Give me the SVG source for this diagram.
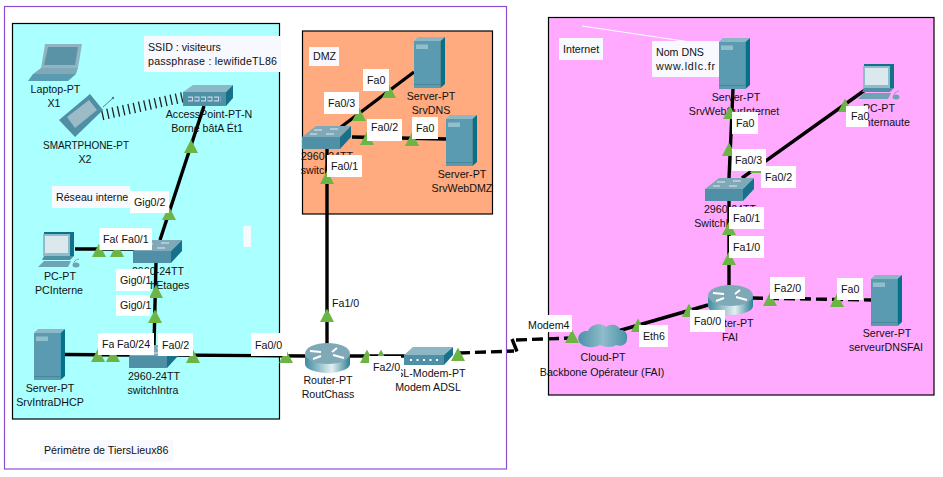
<svg xmlns="http://www.w3.org/2000/svg" xmlns:xlink="http://www.w3.org/1999/xlink" width="943" height="477" viewBox="0 0 943 477">
<style>
text{font-family:"Liberation Sans",Arial,sans-serif;font-size:10.67px;fill:#111}
.c{text-anchor:middle}
.zone{stroke:#000;stroke-width:1.2}
.link{fill:none;stroke:#000;stroke-width:3.4;stroke-linecap:butt}
.dash{stroke-dasharray:11 5}
.box{fill:#fff}
.note{fill:#f8f8ff}
.tri{fill:#6cb544}
</style>
<defs>
<linearGradient id="rg" x1="0" x2="1" y1="0" y2="0"><stop offset="0" stop-color="#3f8ba1"/><stop offset=".6" stop-color="#e4f0f1"/><stop offset="1" stop-color="#2d7e95"/></linearGradient>
<linearGradient id="cg" x1="0" x2="1" y1="0" y2="0"><stop offset="0" stop-color="#4b92a8"/><stop offset=".5" stop-color="#8fbcc8"/><stop offset="1" stop-color="#4b92a8"/></linearGradient>
<polygon id="tr" class="tri" points="-7,0 7,0 0,-13.5"/>
<g id="server">
<rect x="0" y="4" width="26.5" height="47" fill="#5a9bb1"/>
<polygon points="0,4 4,0 31,0 26.5,4" fill="#8cb7c5"/>
<polygon points="26.5,4 31,0 31,47 26.5,51" fill="#05708a"/>
<rect x="2" y="7.5" width="12" height="4.5" fill="#93bfcd"/>
<line x1="0" y1="47.5" x2="26.5" y2="47.5" stroke="#4a8699"/>
</g>
<g id="switch">
<polygon points="0,11 14,0 49,0 38,11" fill="#7fa9b7"/>
<rect x="0" y="11" width="38" height="12" fill="#4f90a7"/>
<polygon points="38,11 49,0 49,11 38,23" fill="#17718a"/>
<path d="M12 4h8M28 3h8M8 8h7M24 8h8" stroke="#eef" stroke-width=".9"/>
</g>
<g id="router">
<path d="M0 12v9a22.5 9 0 0 0 45 0v-9z" fill="url(#rg)"/>
<ellipse cx="22.5" cy="10.5" rx="22.5" ry="10.5" fill="#7fa9b7"/>
<path d="M5 8l11 1M16 13l-8 3M27 9l5-4M28 12l11 3" stroke="#fff" stroke-width="2"/>
</g>
<g id="pc">
<rect x="6" y="0" width="30" height="24" fill="#11718a"/>
<rect x="5" y="2" width="27" height="22" fill="#8fbccb"/>
<rect x="7" y="4" width="23" height="17" fill="#dbe8ee"/>
<polygon points="6,24 36,24 32,28 4,28" fill="#4f90a7"/>
<polygon points="0,35 6,29 33,29 30,35" fill="#6fa2b3"/>
<path d="M36 33q-1-5 5-6" fill="none" stroke="#7fa9b7"/>
<ellipse cx="38" cy="33" rx="3.5" ry="2.5" fill="#6fa2b3"/>
</g>
<g id="laptop">
<polygon points="17,0 54,0 50,24 13,24" fill="#8fb5c2"/>
<polygon points="20,3 50,3 47,21 16,21" fill="#5a93a6"/>
<polygon points="13,24 50,24 48,30 5,30" fill="#7fa9b7"/>
<polygon points="5,30 48,30 40,37 0,37" fill="#5a9bb1"/>
</g>
<g id="phone">
<polygon points="0,26 31,0 44,16 16,43" fill="#4f8ea5"/>
<polygon points="8,23 30,6 38,16 16,34" fill="#9dbbc7"/>
<line x1="44" y1="13" x2="54" y2="4" stroke="#4f7f92"/>
<circle cx="54" cy="4" r="1.2" fill="#3f8199"/>
</g>
<g id="ap">
<polygon points="0,7 10,0 50,0 43,7" fill="#8eb7c5"/>
<rect x="0" y="7" width="43" height="14" fill="#4f90a7"/>
<polygon points="43,7 50,0 50,13 43,21" fill="#17718a"/>
<path d="M5 14h33" stroke="#eef" stroke-width="5" stroke-dasharray="5 1.5" fill="none" opacity=".75"/>
<path d="M5 14h33" stroke="#4f90a7" stroke-width="2.5" stroke-dasharray="4 2.5" fill="none"/>
</g>
<g id="modem">
<polygon points="0,8 9,0 49,0 40,8" fill="#8eb7c5"/>
<rect x="0" y="8" width="40" height="10" fill="#4f90a7"/>
<polygon points="40,8 49,0 49,8 40,18" fill="#17718a"/>
<path d="M6 13h29" stroke="#fff" stroke-width="2" stroke-dasharray="2 4.5"/>
</g>
<g id="cloud">
<path d="M3 21C-3 15 2 7 10 8C12 1 24 -1 28 4C33 0 41 2 42 7C48 6 50 12 49 16C49 22 43 24 38 22C34 25 26 24 22 22C17 25 7 25 3 21z" fill="url(#cg)"/>
</g>
</defs>

<rect width="943" height="477" fill="#fff"/>
<rect x="4.5" y="6.5" width="502" height="462.5" fill="none" stroke="#8a4fd0" stroke-width="1.2"/>
<rect class="zone" x="12.5" y="23.5" width="267" height="395.5" fill="#aaffff"/>
<rect class="zone" x="302.5" y="31" width="190" height="183" fill="#ffaa7f"/>
<rect class="zone" x="548.5" y="17.5" width="385.5" height="377.5" fill="#ffaaff"/>
<line x1="582" y1="26" x2="690" y2="42" stroke="#fff" stroke-width="1"/>

<g id="connectors">
<line class="link" x1="204" y1="106" x2="160" y2="240"/>
<line class="link" x1="75" y1="249" x2="135" y2="249"/>
<line class="link" x1="156" y1="262" x2="154" y2="346"/>
<line class="link" x1="65" y1="354.5" x2="130" y2="355"/>
<line class="link" x1="170" y1="355" x2="305" y2="356"/>
<line class="link" x1="341" y1="127" x2="414" y2="72"/>
<line class="link" x1="352" y1="137" x2="446" y2="139"/>
<line class="link" x1="327" y1="149" x2="327" y2="345"/>
<line class="link" x1="350" y1="356" x2="405" y2="356"/>
<path class="link dash" d="M459 353L514 351"/>
<path class="link" d="M517 351.5L512 339"/>
<path class="link dash" d="M516 340L580 337.7"/>
<line class="link" x1="618" y1="331" x2="708" y2="305"/>
<line class="link" x1="729" y1="285" x2="729" y2="200"/>
<line class="link" x1="729" y1="178" x2="733" y2="89"/>
<line class="link" x1="742" y1="178" x2="865" y2="90"/>
<line class="link dash" x1="752" y1="298" x2="871" y2="300"/>
<line x1="102" y1="115" x2="184" y2="97" stroke="#222" stroke-width="10.5" stroke-dasharray="1.3 4.1"/>
</g>

<g id="laptop-x1"><use href="#laptop" x="28" y="44"/><text class="c" x="55.5" y="93">Laptop-PT</text><text class="c" x="54" y="107">X1</text></g>
<g id="smartphone-x2"><use href="#phone" x="59" y="94"/><text class="c" x="86" y="149" textLength="86" lengthAdjust="spacingAndGlyphs">SMARTPHONE-PT</text><text class="c" x="85" y="163">X2</text></g>
<g id="ap-borne"><use href="#ap" x="183" y="85"/><text class="c" x="209" y="118">AccessPoint-PT-N</text><text class="c" x="207" y="132">Borne bâtA Ét1</text></g>
<g id="pc-interne"><use href="#pc" x="38" y="232"/><text class="c" x="60" y="280">PC-PT</text><text class="c" x="59" y="294">PCInterne</text></g>
<g id="switch-etages"><use href="#switch" x="133" y="240"/><text class="c" x="158" y="275">2960-24TT</text><text class="c" x="158" y="289">switchEtages</text></g>
<g id="srv-intra"><use href="#server" x="34" y="329"/><text class="c" x="50" y="392">Server-PT</text><text class="c" x="50" y="406">SrvIntraDHCP</text></g>
<g id="switch-intra"><use href="#switch" x="129" y="345"/><text class="c" x="154" y="380">2960-24TT</text><text class="c" x="153" y="394">switchIntra</text></g>
<g id="srv-dns"><use href="#server" x="414" y="37"/><text class="c" x="431" y="100">Server-PT</text><text class="c" x="431" y="114">SrvDNS</text></g>
<g id="srv-webdmz"><use href="#server" x="446" y="115"/><text class="c" x="462" y="178">Server-PT</text><text class="c" x="462" y="192">SrvWebDMZ</text></g>
<g id="switch-dmz"><use href="#switch" x="302" y="126"/><text class="c" x="327" y="160">2960-24TT</text><text class="c" x="327" y="174">switchDMZ</text></g>
<g id="rout-chass"><use href="#router" x="305" y="343"/><text class="c" x="328" y="384">Router-PT</text><text class="c" x="328" y="398">RoutChass</text></g>
<g id="modem-adsl"><use href="#modem" x="404" y="347"/><text class="c" x="423.5" y="377">ADSL-Modem-PT</text><text class="c" x="428" y="391">Modem ADSL</text></g>
<g id="cloud-fai"><use href="#cloud" x="578" y="323"/><text class="c" x="603" y="361">Cloud-PT</text><text class="c" x="602" y="376">Backbone Opérateur (FAI)</text></g>
<g id="router-fai"><use href="#router" x="708" y="285"/><text class="c" x="729" y="327">Router-PT</text><text class="c" x="730" y="341">FAI</text></g>
<g id="srv-dnsfai"><use href="#server" x="871" y="275"/><text class="c" x="887" y="337">Server-PT</text><text class="c" x="886" y="351">serveurDNSFAI</text></g>
<g id="switch-internet"><use href="#switch" x="705" y="178"/><text class="c" x="730" y="213">2960-24TT</text><text class="c" x="728" y="227">SwitchInternet</text></g>
<g id="srv-web"><use href="#server" x="719" y="38"/><text class="c" x="736" y="101">Server-PT</text><text class="c" x="734" y="115">SrvWebSurInternet</text></g>
<g id="pc-internaute"><use href="#pc" x="858" y="64"/><text class="c" x="879" y="112">PC-PT</text><text class="c" x="878.5" y="126">PCInternaute</text></g>

<g id="port-markers">
<use href="#tr" x="191" y="153"/><use href="#tr" x="169" y="220"/>
<use href="#tr" x="99" y="257"/><use href="#tr" x="117" y="257"/>
<use href="#tr" x="156" y="298"/><use href="#tr" x="155" y="323"/>
<use href="#tr" x="98" y="362"/><use href="#tr" x="113" y="362"/>
<use href="#tr" x="193" y="363"/><use href="#tr" x="286" y="363"/>
<use href="#tr" x="359" y="121"/><use href="#tr" x="389" y="98"/>
<use href="#tr" x="367" y="145"/><use href="#tr" x="412" y="146"/>
<use href="#tr" x="327" y="184"/><use href="#tr" x="327" y="322"/>
<use href="#tr" x="367" y="363"/><use href="#tr" x="381" y="363"/>
<use href="#tr" x="458" y="361"/><use href="#tr" x="572" y="343"/>
<use href="#tr" x="638" y="332"/><use href="#tr" x="689" y="317"/>
<use href="#tr" x="729" y="235"/><use href="#tr" x="729" y="265"/>
<use href="#tr" x="770" y="306"/><use href="#tr" x="837" y="307"/>
<use href="#tr" x="730" y="119"/><use href="#tr" x="729" y="156"/>
<use href="#tr" x="757" y="173"/><use href="#tr" x="845" y="112"/>
</g>

<g id="port-labels">
<rect class="box" x="99.5" y="228" width="20" height="22"/><text x="103" y="243">Fa0</text>
<rect class="box" x="118" y="228" width="34" height="22"/><text x="121.5" y="243">Fa0/1</text>
<rect class="box" x="116" y="269" width="34" height="22"/><text x="120" y="284">Gig0/1</text>
<rect class="box" x="116" y="295" width="34" height="21"/><text x="120" y="309">Gig0/1</text>
<rect class="box" x="98" y="333" width="22" height="22"/><text x="102" y="348">Fa0</text>
<rect class="box" x="114" y="333" width="40" height="22"/><text x="117" y="348">Fa0/24</text>
<rect class="box" x="158" y="333" width="35" height="23"/><text x="162" y="349">Fa0/2</text>
<rect class="box" x="251" y="333" width="36" height="23"/><text x="255" y="349">Fa0/0</text>
<rect class="box" x="130" y="191" width="39" height="22"/><text x="134" y="206">Gig0/2</text>
<rect class="box" x="363" y="69" width="26" height="22"/><text x="367" y="84">Fa0</text>
<rect class="box" x="324" y="92" width="35" height="22"/><text x="328" y="107">Fa0/3</text>
<rect class="box" x="367" y="119" width="35" height="22"/><text x="371" y="131">Fa0/2</text>
<rect class="box" x="412" y="117" width="26" height="22"/><text x="416" y="132">Fa0</text>
<rect class="box" x="327" y="155" width="35" height="22"/><text x="331" y="170">Fa0/1</text>
<text x="332" y="307">Fa1/0</text>
<rect class="box" x="369" y="356" width="32" height="22"/><text x="373" y="371">Fa2/0</text>
<rect class="box" x="524" y="315" width="48" height="17"/><text x="528" y="329">Modem4</text>
<rect class="box" x="639" y="325" width="29" height="22"/><text x="643" y="340">Eth6</text>
<rect class="box" x="690" y="310" width="35" height="22"/><text x="694" y="325">Fa0/0</text>
<rect class="box" x="729" y="207" width="35" height="22"/><text x="733" y="222">Fa0/1</text>
<rect class="box" x="729" y="236" width="35" height="22"/><text x="733" y="251">Fa1/0</text>
<rect class="box" x="770" y="277" width="35" height="22"/><text x="774" y="292">Fa2/0</text>
<rect class="box" x="837" y="278" width="26" height="22"/><text x="841" y="293">Fa0</text>
<rect class="box" x="732" y="112" width="26" height="22"/><text x="736" y="127">Fa0</text>
<rect class="box" x="732" y="149" width="34" height="22"/><text x="735" y="164">Fa0/3</text>
<rect class="box" x="761" y="166" width="35" height="22"/><text x="765" y="181">Fa0/2</text>
<rect class="box" x="846" y="106" width="22" height="21"/><text x="851" y="120">Fa0</text>
</g>

<g id="notes">
<rect class="note" x="144" y="36" width="137" height="36"/><text x="148" y="51">SSID : visiteurs</text><text x="148" y="65" textLength="129" lengthAdjust="spacing">passphrase : lewifideTL86</text>
<rect class="note" x="52" y="186" width="78" height="22"/><text x="56" y="201">Réseau interne</text>
<rect class="note" x="243" y="226" width="8" height="21"/>
<rect class="note" x="40" y="440" width="133" height="22"/><text x="44" y="454">Périmètre de TiersLieux86</text>
<rect class="note" x="309" y="47" width="30" height="19"/><text x="313" y="60">DMZ</text>
<rect class="note" x="559" y="38" width="44" height="22"/><text x="563" y="53">Internet</text>
<rect class="note" x="652" y="41" width="67" height="36"/><text x="656" y="56">Nom DNS</text><text x="656" y="70" textLength="59" lengthAdjust="spacing">www.ldlc.fr</text>
</g>
</svg>
